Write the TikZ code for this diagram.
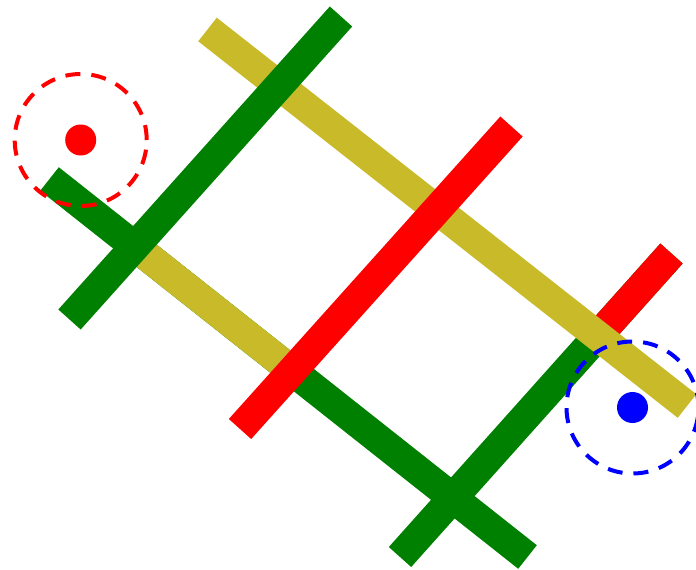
\documentclass[tikz,border=0pt]{standalone}
\definecolor{barolive}{RGB}{201,186,41}
\definecolor{bargreen}{RGB}{0,128,0}
\definecolor{barred}{RGB}{255,0,0}
\definecolor{ptblue}{RGB}{0,0,255}
\begin{document}
\begin{tikzpicture}[x=1pt,y=-1pt,
  bar/.style={line width=30pt, line cap=butt},
  ring/.style={draw, circle, line width=4pt, dash pattern=on 15pt off 11pt, minimum size=132pt, inner sep=0pt},
  dot/.style={circle, inner sep=0pt, minimum size=31pt}]
\useasboundingbox (0,0) rectangle (696,570);
% long bars (end points)
\coordinate (Ya) at (207.5,29.5);
\coordinate (Yb) at (687,406);
\coordinate (La) at (49.5,179);
\coordinate (Lb) at (527.5,557);
% short bars
\coordinate (Ga) at (341,16.5);
\coordinate (Gb) at (69.5,319.5);
\coordinate (Ra) at (511.5,126.5);
\coordinate (Rb) at (240,429);
\coordinate (Sa) at (671.5,253.5);
\coordinate (Sb) at (400,557);
% crossing points
\coordinate (X1) at (134.9,246.5);
\coordinate (X2) at (292.2,370.9);
\coordinate (X3) at (597.8,335.9);
% drawing
\draw[bar, bargreen] (La) -- (Lb);
\draw[bar, bargreen] (Sa) -- (Sb);
\draw[bar, barred] (Sa) -- (X3);
\draw[bar, barolive] (X1) -- (X2);
\draw[bar, barolive] (Ya) -- (Yb);
\draw[bar, bargreen] (Ga) -- (Gb);
\draw[bar, barred] (Ra) -- (Rb);
% markers
\node[dot, fill=barred] (rdot) at (80.7,140) {};
\node[ring, barred] (rring) at (rdot.center) {};
\node[dot, fill=ptblue] (bdot) at (632.5,407.5) {};
\node[ring, ptblue] (bring) at (bdot.center) {};
\end{tikzpicture}
\end{document}
